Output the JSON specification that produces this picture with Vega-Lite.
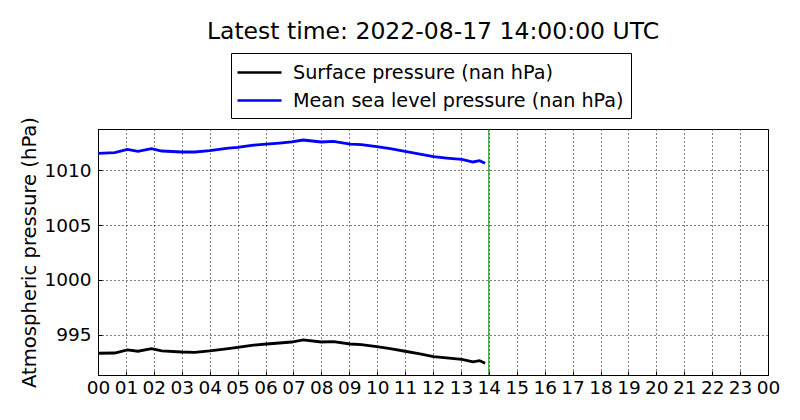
{
  "$schema": "https://vega.github.io/schema/vega-lite/v6.json",
  "width": 670,
  "height": 246,
  "autosize": {"type": "none"},
  "padding": {"left": 98, "top": 129, "right": 32, "bottom": 45},
  "background": "#ffffff",
  "config": {
    "font": "DejaVu Sans",
    "view": {"stroke": "#000000", "strokeWidth": 1},
    "axis": {
      "domainColor": "#000000",
      "labelColor": "#000000",
      "titleColor": "#000000",
      "labelFontSize": 18.5,
      "ticks": true,
      "tickSize": -4,
      "tickColor": "#000000",
      "grid": true,
      "gridColor": "#000000",
      "gridOpacity": 1,
      "gridDash": [1, 3],
      "gridWidth": 1
    }
  },
  "title": {
    "text": "Latest time: 2022-08-17 14:00:00 UTC",
    "fontSize": 23.5,
    "fontWeight": "normal",
    "color": "#000000",
    "anchor": "middle",
    "offset": 9
  },
  "datasets": {
    "pressure": [
      {"time": "2022-08-17T00:00:00Z", "surface": 993.34, "msl": 1011.52},
      {"time": "2022-08-17T00:36:00Z", "surface": 993.36, "msl": 1011.58},
      {"time": "2022-08-17T01:03:00Z", "surface": 993.64, "msl": 1011.88},
      {"time": "2022-08-17T01:26:00Z", "surface": 993.52, "msl": 1011.70},
      {"time": "2022-08-17T01:55:00Z", "surface": 993.76, "msl": 1011.94},
      {"time": "2022-08-17T02:17:00Z", "surface": 993.55, "msl": 1011.73},
      {"time": "2022-08-17T03:00:00Z", "surface": 993.45, "msl": 1011.64},
      {"time": "2022-08-17T03:28:00Z", "surface": 993.42, "msl": 1011.64},
      {"time": "2022-08-17T04:00:00Z", "surface": 993.55, "msl": 1011.76},
      {"time": "2022-08-17T04:40:00Z", "surface": 993.76, "msl": 1012.00},
      {"time": "2022-08-17T05:00:00Z", "surface": 993.88, "msl": 1012.06},
      {"time": "2022-08-17T05:30:00Z", "surface": 994.06, "msl": 1012.24},
      {"time": "2022-08-17T06:02:00Z", "surface": 994.18, "msl": 1012.36},
      {"time": "2022-08-17T06:30:00Z", "surface": 994.27, "msl": 1012.45},
      {"time": "2022-08-17T06:56:00Z", "surface": 994.36, "msl": 1012.55},
      {"time": "2022-08-17T07:21:00Z", "surface": 994.55, "msl": 1012.73},
      {"time": "2022-08-17T08:00:00Z", "surface": 994.36, "msl": 1012.55},
      {"time": "2022-08-17T08:26:00Z", "surface": 994.40, "msl": 1012.60},
      {"time": "2022-08-17T09:02:00Z", "surface": 994.18, "msl": 1012.36},
      {"time": "2022-08-17T09:26:00Z", "surface": 994.12, "msl": 1012.30},
      {"time": "2022-08-17T09:59:00Z", "surface": 993.94, "msl": 1012.12},
      {"time": "2022-08-17T10:28:00Z", "surface": 993.76, "msl": 1011.94},
      {"time": "2022-08-17T11:00:00Z", "surface": 993.52, "msl": 1011.70},
      {"time": "2022-08-17T11:32:00Z", "surface": 993.27, "msl": 1011.45},
      {"time": "2022-08-17T12:01:00Z", "surface": 993.03, "msl": 1011.21},
      {"time": "2022-08-17T12:29:00Z", "surface": 992.91, "msl": 1011.09},
      {"time": "2022-08-17T13:02:00Z", "surface": 992.79, "msl": 1010.97},
      {"time": "2022-08-17T13:26:00Z", "surface": 992.55, "msl": 1010.73},
      {"time": "2022-08-17T13:40:00Z", "surface": 992.67, "msl": 1010.85},
      {"time": "2022-08-17T13:52:00Z", "surface": 992.42, "msl": 1010.61}
    ],
    "latest": [
      {"time": "2022-08-17T14:00:00Z"}
    ]
  },
  "encoding": {
    "x": {
      "field": "time",
      "type": "temporal",
      "scale": {
        "type": "utc",
        "domain": [
          {"year": 2022, "month": 8, "date": 17, "hours": 0, "utc": true},
          {"year": 2022, "month": 8, "date": 18, "hours": 0, "utc": true}
        ]
      },
      "title": null,
      "axis": {
        "values": [
          {"year": 2022, "month": 8, "date": 17, "hours": 0, "utc": true},
          {"year": 2022, "month": 8, "date": 17, "hours": 1, "utc": true},
          {"year": 2022, "month": 8, "date": 17, "hours": 2, "utc": true},
          {"year": 2022, "month": 8, "date": 17, "hours": 3, "utc": true},
          {"year": 2022, "month": 8, "date": 17, "hours": 4, "utc": true},
          {"year": 2022, "month": 8, "date": 17, "hours": 5, "utc": true},
          {"year": 2022, "month": 8, "date": 17, "hours": 6, "utc": true},
          {"year": 2022, "month": 8, "date": 17, "hours": 7, "utc": true},
          {"year": 2022, "month": 8, "date": 17, "hours": 8, "utc": true},
          {"year": 2022, "month": 8, "date": 17, "hours": 9, "utc": true},
          {"year": 2022, "month": 8, "date": 17, "hours": 10, "utc": true},
          {"year": 2022, "month": 8, "date": 17, "hours": 11, "utc": true},
          {"year": 2022, "month": 8, "date": 17, "hours": 12, "utc": true},
          {"year": 2022, "month": 8, "date": 17, "hours": 13, "utc": true},
          {"year": 2022, "month": 8, "date": 17, "hours": 14, "utc": true},
          {"year": 2022, "month": 8, "date": 17, "hours": 15, "utc": true},
          {"year": 2022, "month": 8, "date": 17, "hours": 16, "utc": true},
          {"year": 2022, "month": 8, "date": 17, "hours": 17, "utc": true},
          {"year": 2022, "month": 8, "date": 17, "hours": 18, "utc": true},
          {"year": 2022, "month": 8, "date": 17, "hours": 19, "utc": true},
          {"year": 2022, "month": 8, "date": 17, "hours": 20, "utc": true},
          {"year": 2022, "month": 8, "date": 17, "hours": 21, "utc": true},
          {"year": 2022, "month": 8, "date": 17, "hours": 22, "utc": true},
          {"year": 2022, "month": 8, "date": 17, "hours": 23, "utc": true},
          {"year": 2022, "month": 8, "date": 18, "hours": 0, "utc": true}
        ],
        "labelExpr": "utcFormat(datum.value, '%H')",
        "labelPadding": 7,
        "labelFlush": false,
        "labelOverlap": false
      }
    }
  },
  "layer": [
    {
      "data": {"name": "pressure"},
      "transform": [
        {"fold": ["surface", "msl"], "as": ["series", "hPa"]}
      ],
      "mark": {"type": "line", "strokeWidth": 2.8},
      "encoding": {
        "y": {
          "field": "hPa",
          "type": "quantitative",
          "scale": {"domain": [991.36, 1013.73], "zero": false, "nice": false},
          "title": "Atmospheric pressure (hPa)",
          "axis": {
            "values": [995, 1000, 1005, 1010],
            "format": "d",
            "labelPadding": 11,
            "titleFontSize": 19.6,
            "titleFontWeight": "normal",
            "titlePadding": 4
          }
        },
        "color": {
          "field": "series",
          "type": "nominal",
          "scale": {"domain": ["surface", "msl"], "range": ["#000000", "#0000ff"]},
          "legend": {
            "orient": "none",
            "legendX": 133,
            "legendY": -76,
            "title": null,
            "strokeColor": "#000000",
            "fillColor": "#ffffff",
            "padding": 7,
            "symbolType": "M-2,0H2",
            "symbolSize": 484,
            "symbolStrokeWidth": 2.5,
            "symbolOffset": 9,
            "labelFontSize": 19.2,
            "labelColor": "#000000",
            "labelLimit": 500,
            "labelOffset": 21,
            "rowPadding": 5,
            "labelExpr": "datum.value == 'surface' ? 'Surface pressure (nan hPa)' : 'Mean sea level pressure (nan hPa)'"
          }
        }
      }
    },
    {
      "data": {"name": "latest"},
      "mark": {"type": "rule", "color": "#008000", "strokeWidth": 1}
    }
  ]
}
